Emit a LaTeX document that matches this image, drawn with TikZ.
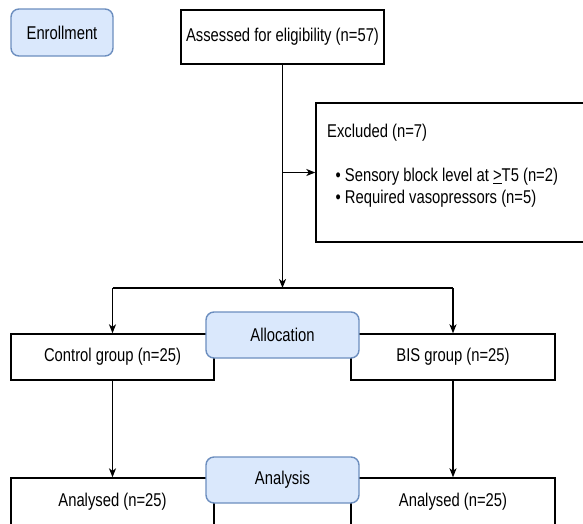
\documentclass[tikz,border=0pt]{standalone}
\usepackage{fontspec}
\setmainfont{Liberation Sans}[FakeStretch=0.8]
\usetikzlibrary{arrows.meta}
\begin{document}
\begin{tikzpicture}[x=1pt,y=-1pt,
  every node/.style={font=\fontsize{18.5}{21}\selectfont},
  plainbox/.style={draw=black, line width=1.4pt, fill=white, inner sep=0pt, align=center},
  bluebox/.style={draw=blueedge, line width=1.4pt, fill=bluefill, rounded corners=8pt, inner sep=0pt, align=center},
  txt/.style={inner sep=0pt, anchor=west},
  arr/.style={draw=black, line width=1.3pt, -{Stealth[length=9pt,width=7pt,inset=2.5pt]}},
  ln/.style={draw=black, line width=1.3pt}]
\definecolor{bluefill}{HTML}{DAE8FC}
\definecolor{blueedge}{HTML}{6C8EBF}
\useasboundingbox (0,0) rectangle (583,523);
\fill[white] (0,0) rectangle (583,523);
\clip (0,0) rectangle (583,523);

% boxes
\node[bluebox, minimum width=102pt, minimum height=47pt] (enr) at (62,32.5) {Enrollment};
\node[plainbox, minimum width=203pt, minimum height=54pt] (assess) at (282.5,37) {\raisebox{3pt}{Assessed for eligibility (n=57)}};
\node[plainbox, minimum width=284pt, minimum height=139pt] (excl) at (458,172.5) {};
\node[txt] (exclt) at (327,133) {Excluded (n=7)};
\node[txt] (excl1) at (335.5,177) {• Sensory block level at \underline{>}T5 (n=2)};
\node[txt] (excl2) at (335.5,199) {• Required vasopressors (n=5)};

\node[plainbox, minimum width=203pt, minimum height=46pt] (ctrl) at (112.5,357) {Control group (n=25)};
\node[plainbox, minimum width=204pt, minimum height=46pt] (bis) at (453,357) {BIS group (n=25)};

\node[plainbox, minimum width=203pt, minimum height=48pt] (an1) at (112.5,502) {Analysed (n=25)};
\node[plainbox, minimum width=204pt, minimum height=48pt] (an2) at (453,502) {Analysed (n=25)};

% connectors
\coordinate (split) at (282.5,288);
\draw[arr] (assess.south) -- (split);
\draw[arr] (assess.south |- excl.west) -- (excl.west);
\draw[ln] (ctrl.north |- split) -- (bis.north |- split);
\draw[arr] (ctrl.north |- split) -- (ctrl.north);
\draw[arr] (bis.north |- split) -- (bis.north);
\draw[arr] (ctrl.south) -- (an1.north);
\draw[arr] (bis.south) -- (an2.north);

% phase labels on top of the overlapping box edges
\node[bluebox, minimum width=153pt, minimum height=46pt] (alloc) at (282.5,335) {Allocation};
\node[bluebox, minimum width=153pt, minimum height=46pt] (anal) at (282.5,480) {Analysis};
\end{tikzpicture}
\end{document}
